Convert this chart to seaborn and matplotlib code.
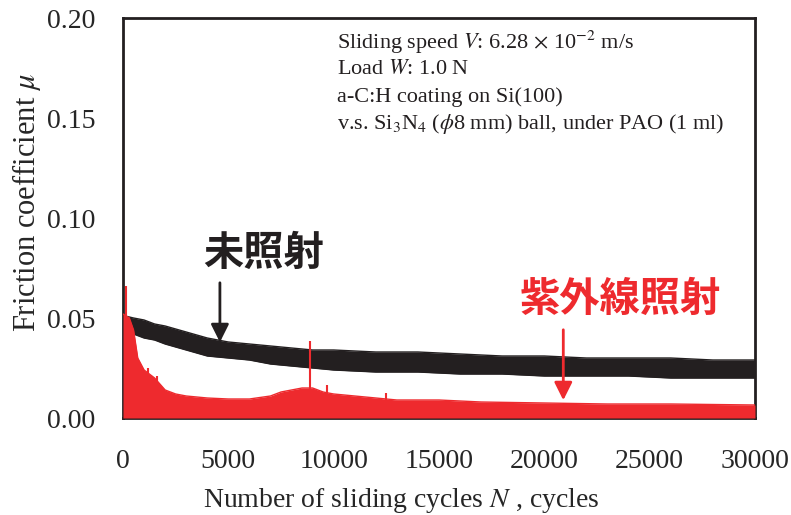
import matplotlib
matplotlib.use("Agg")
import matplotlib.pyplot as plt
import seaborn as sns
import numpy as np
import pandas as pd

# ---- data ----
black_x = [100, 500, 1000, 1500, 2000, 3000, 4000, 5000, 6000, 7000, 8000, 9000, 10000,
           12000, 14000, 16000, 18000, 20000, 22000, 24000, 26000, 28000, 30000]
black_upper = [0.051, 0.050, 0.049, 0.047, 0.046, 0.043, 0.040, 0.038, 0.037, 0.036, 0.035, 0.034, 0.034,
               0.033, 0.033, 0.032, 0.031, 0.031, 0.030, 0.030, 0.030, 0.029, 0.029]
black_lower = [0.043, 0.042, 0.040, 0.039, 0.037, 0.034, 0.031, 0.030, 0.029, 0.027, 0.026, 0.025, 0.024,
               0.023, 0.023, 0.022, 0.022, 0.021, 0.021, 0.021, 0.020, 0.020, 0.020]

red_x = [0, 300, 500, 700, 1000, 1500, 2000, 2500, 3000, 4000, 5000, 6000, 7000, 7500, 8000,
         8500, 9000, 9500, 10000, 11000, 12000, 13000, 15000, 17000, 20000, 23000, 26000, 30000]
red_upper = [0.052, 0.050, 0.044, 0.030, 0.024, 0.020, 0.014, 0.012, 0.011, 0.010, 0.0095, 0.0095, 0.011,
             0.013, 0.014, 0.015, 0.015, 0.013, 0.012, 0.011, 0.010, 0.009, 0.009, 0.008, 0.0075, 0.007,
             0.007, 0.0065]

red_spike_x = [150, 450, 1200, 1600, 8900, 9700, 12500]
red_spike_y = [0.066, 0.045, 0.025, 0.021, 0.0385, 0.0165, 0.0125]

y_ticks = [0.00, 0.05, 0.10, 0.15, 0.20]
x_ticks = [0, 5000, 10000, 15000, 20000, 25000, 30000]

label_black = "未照射"
label_red = "紫外線照射"
info_lines = [r"Sliding speed $V$: 6.28$\,\times\,$10$^{-2}$ m/s",
              r"Load $W$: 1.0 N",
              r"a-C:H coating on Si(100)",
              r"v.s. Si$_3$N$_4$ ($\phi$8 mm) ball, under PAO (1 ml)"]

BLACK = "#231f20"
RED = "#ee2a2e"

sns.set_theme(style="white")
plt.rcParams["font.family"] = ["Liberation Serif", "DejaVu Serif"]
plt.rcParams["mathtext.fontset"] = "stix"

fig = plt.figure(figsize=(7.91, 5.15), dpi=100)
ax = fig.add_axes([123 / 791, 97 / 515, 632 / 791, 400 / 515])

# black band
bdf = pd.DataFrame({"x": black_x * 2, "y": black_upper + black_lower,
                    "edge": ["u"] * len(black_x) + ["l"] * len(black_x)})
ax.fill_between(black_x, black_lower, black_upper, color=BLACK, lw=0, zorder=3)
sns.lineplot(data=bdf, x="x", y="y", units="edge", estimator=None, color=BLACK, lw=1.0, ax=ax, zorder=3)

# red band
rdf = pd.DataFrame({"x": red_x, "y": red_upper})
ax.fill_between(red_x, 0, red_upper, color=RED, lw=0, zorder=4)
sns.lineplot(data=rdf, x="x", y="y", color=RED, lw=1.0, ax=ax, zorder=4)
ax.vlines(red_spike_x, 0, red_spike_y, color=RED, lw=1.5, zorder=4)

ax.set_xlim(0, 30000)
ax.set_ylim(0, 0.20)
ax.set_xticks(x_ticks)
ax.set_xticklabels([str(v) for v in x_ticks])
ax.set_yticks(y_ticks)
ax.set_yticklabels([f"{v:.2f}" for v in y_ticks])
ax.tick_params(axis="y", direction="in", length=6, width=1.5, labelsize=20, pad=20, color=BLACK)
ax.tick_params(axis="x", length=0, labelsize=20, pad=22)
for s in ax.spines.values():
    s.set_visible(True)
    s.set_color(BLACK)
    s.set_linewidth(2)
ax.set_ylabel(r"Friction coefficient $\mu$", fontsize=22)
ax.yaxis.set_label_coords(-0.127, 0.5375)
ax.set_xlabel(r"Number of sliding cycles $N$ , cycles", fontsize=20, labelpad=9, x=0.44)
ax.grid(False)

for i, line in enumerate(info_lines):
    ax.text(0.3386, 0.94 - i * 0.0685, line, transform=ax.transAxes, fontsize=16,
            ha="left", va="center", color=BLACK)

ax.text(6690, 0.0825, label_black, fontsize=29, fontweight="bold", ha="center", va="center",
        color=BLACK, family=["Noto Sans CJK JP", "DejaVu Sans"])
ax.text(23590, 0.0595, label_red, fontsize=29, fontweight="bold", ha="center", va="center",
        color=RED, family=["Noto Sans CJK JP", "DejaVu Sans"])

ax.annotate("", xy=(4600, 0.0365), xytext=(4600, 0.069),
            arrowprops=dict(arrowstyle="-|>,head_length=0.9,head_width=0.45", color=BLACK, lw=2))
ax.annotate("", xy=(20900, 0.0075), xytext=(20900, 0.0455),
            arrowprops=dict(arrowstyle="-|>,head_length=0.9,head_width=0.45", color=RED, lw=2))

fig.savefig("out.png", dpi=100)
